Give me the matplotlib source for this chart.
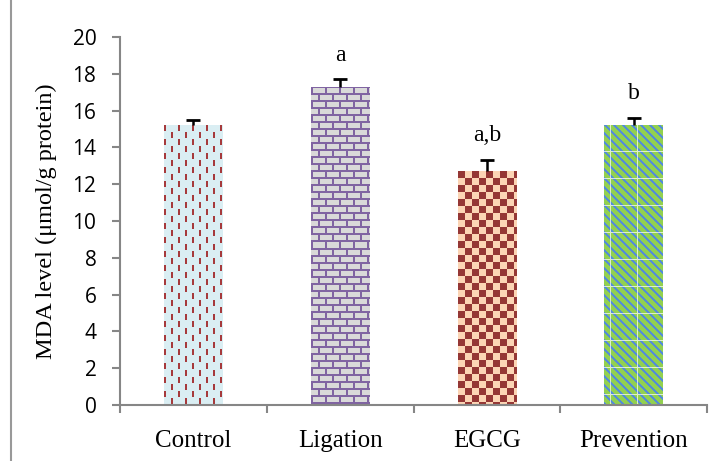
import numpy as np
import matplotlib
matplotlib.use("Agg")
import matplotlib.pyplot as plt
from matplotlib.colors import to_rgb
from matplotlib.patches import Rectangle

# ======================
# Data
# ======================
groups = ["Control", "Ligation", "EGCG", "Prevention"]
mda = [15.2, 17.3, 12.7, 15.2]
mda_err = [0.3, 0.4, 0.6, 0.4]
letters = ["", "a", "a,b", "b"]

# ======================
# Bar textures (pixel tiles)
# ======================
def tex_control(h, w):
    yy, xx = np.mgrid[0:h, 0:w]
    bg, fg = np.array(to_rgb("#DAEEF3")), np.array(to_rgb("#A63A3C"))
    col = xx // 7
    dash = ((xx % 7) < 2) & (((yy + (col % 2) * 7) % 14) < 6)
    img = np.where(dash[..., None], fg, bg)
    return img

def tex_ligation(h, w):
    yy, xx = np.mgrid[0:h, 0:w]
    bg, fg = np.array(to_rgb("#D9D9D9")), np.array(to_rgb("#8064A2"))
    row = yy // 7
    horiz = (yy % 7) < 2
    vert = ((xx + (row % 2) * 7) % 14) < 2
    return np.where((horiz | vert)[..., None], fg, bg)

def tex_egcg(h, w):
    yy, xx = np.mgrid[0:h, 0:w]
    bg, fg = np.array(to_rgb("#FCD5B5")), np.array(to_rgb("#953735"))
    chk = ((xx // 7) + (yy // 7)) % 2 == 0
    return np.where(chk[..., None], fg, bg)

def tex_prevention(h, w):
    yy, xx = np.mgrid[0:h, 0:w]
    bg, fg = np.array(to_rgb("#92D050")), np.array(to_rgb("#558ED5"))
    stripe = ((xx - yy) % 9) < 3
    img = np.where(stripe[..., None], fg, bg)
    seam = ((xx % 27) == 6) | ((yy % 27) == 26)
    img = np.where(seam[..., None], img * 0.3 + 0.7, img)
    return img

textures = [tex_control, tex_ligation, tex_egcg, tex_prevention]

# ======================
# Figure
# ======================
W, H = 719, 461
fig = plt.figure(figsize=(W / 100, H / 100), dpi=100)
ax = fig.add_axes([120 / W, 1 - 405 / H, (707 - 120) / W, (405 - 37) / H])

x = np.arange(len(groups))
bars = ax.bar(x, mda, width=0.4, color="none", linewidth=0, zorder=2)
ax.set_xlim(-0.5, len(groups) - 0.5)
ax.set_ylim(0, 20)

for bar, make in zip(bars, textures):
    x0, y0 = bar.get_x(), 0
    x1, y1 = bar.get_x() + bar.get_width(), bar.get_height()
    (px0, py0), (px1, py1) = ax.transData.transform([(x0, y0), (x1, y1)])
    img = make(int(round(py1 - py0)), int(round(px1 - px0)))
    im = ax.imshow(img, extent=(x0, x1, y0, y1), origin="upper",
                   interpolation="nearest", aspect="auto", zorder=2)
    im.set_clip_path(bar)

ax.set_xlim(-0.5, len(groups) - 0.5)
ax.set_ylim(0, 20)

eb = ax.errorbar(x, mda, yerr=[np.zeros(len(mda)), mda_err], fmt="none",
                 ecolor="black", elinewidth=1.8, capsize=5, capthick=2, zorder=3)
eb[1][0].set_visible(False)  # no cap at the bar top

serif = ["Liberation Serif", "DejaVu Serif"]
for xi, v, e, t in zip(x, mda, mda_err, letters):
    if t:
        ax.text(xi, v + e + 0.75, t, ha="center", va="bottom",
                fontsize=17, family=serif)

# ======================
# Axes styling
# ======================
grey = "#868686"
for s in ["top", "right"]:
    ax.spines[s].set_visible(False)
for s in ["left", "bottom"]:
    ax.spines[s].set_color(grey)
    ax.spines[s].set_linewidth(1.5)

ax.set_yticks(np.arange(0, 21, 2))
ax.tick_params(axis="y", colors=grey, length=6, width=1.5, labelcolor="black",
               labelsize=15, pad=11)
for lab in ax.get_yticklabels():
    lab.set_family("Open Sans")

ax.set_xticks(np.arange(-0.5, len(groups), 1.0))
ax.set_xticklabels([])
ax.tick_params(axis="x", colors=grey, length=6, width=1.5)
ax.set_xticks(x, minor=True)
ax.set_xticklabels(groups, minor=True, fontsize=18, family=serif)
ax.tick_params(axis="x", which="minor", length=0, pad=18, labelcolor="black")

ax.set_ylabel("MDA level (μmol/g protein)", fontsize=17.5, family=serif, labelpad=11)

# outer frame
fig.patches.append(Rectangle((11 / W, -0.2), 1.2, 1.2 + (1 - 12 / H), transform=fig.transFigure,
                             fill=False, edgecolor="#999999", linewidth=1.5))

fig.savefig("out.png", dpi=100)
